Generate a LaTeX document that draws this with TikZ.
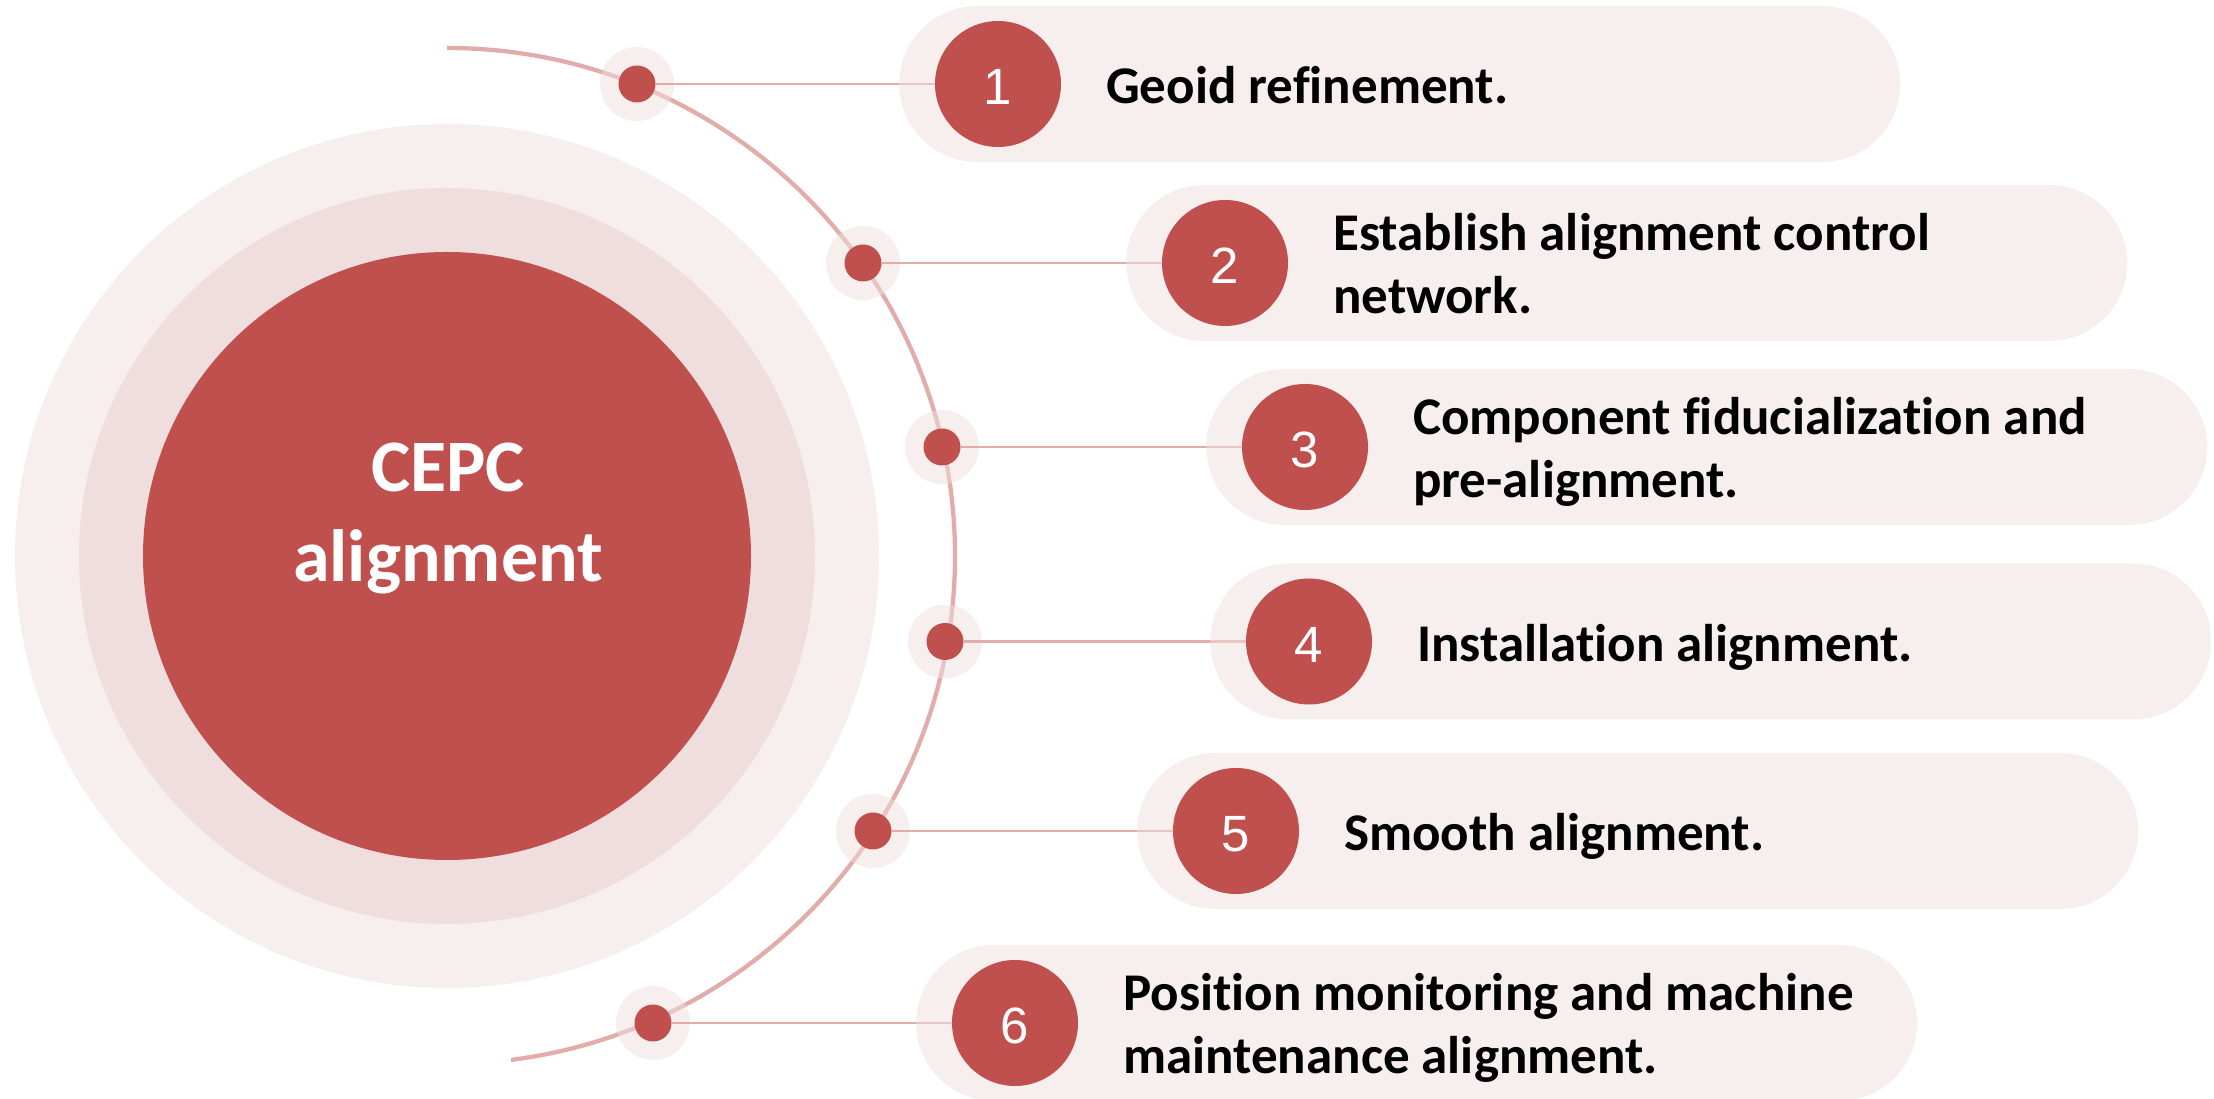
\documentclass[tikz,border=0pt]{standalone}
\usepackage{fontspec}
\setmainfont{Carlito}[Ligatures=NoCommon]
\newfontfamily\numfont{Liberation Sans}
\definecolor{cred}{RGB}{192,80,77}
\definecolor{ctint}{RGB}{239,223,221}
\definecolor{cmid}{RGB}{240,221,221}
\definecolor{cline}{RGB}{226,172,171}
\pgfdeclarelayer{rings}
\pgfdeclarelayer{links}
\pgfdeclarelayer{bars}
\pgfsetlayers{rings,links,bars,main}
\begin{document}
\begin{tikzpicture}[x=1pt,y=1pt,
  tint/.style={fill=ctint,fill opacity=0.5,draw=none},
  disc/.style={circle,inner sep=0pt,draw=none},
  halo/.style={disc,tint,minimum size=74pt},
  dotnode/.style={disc,fill=cred,minimum size=37pt},
  numnode/.style={disc,fill=cred,minimum size=126pt,text=white,
    font=\numfont\fontsize{51}{51}\selectfont,text height=42pt,text depth=0pt},
  pill/.style={rectangle,tint,rounded corners=78pt,minimum width=1001pt,
    minimum height=156pt,inner sep=0pt,anchor=west},
  arcline/.style={draw=cline,line width=4.3pt},
  conn/.style={draw=cline,line width=2.4pt},
  steptext/.style={anchor=base west,inner sep=0pt,text=black,
    font=\bfseries\fontsize{53}{62}\selectfont},
  hubtext/.style={anchor=base,inner sep=0pt,text=white,
    font=\bfseries\fontsize{74}{90}\selectfont}]
\useasboundingbox (0,0) rectangle (2214,1099);
\coordinate (ctr) at (447,543);

% concentric hub and the guiding arc with its halos
\begin{pgfonlayer}{rings}
  \node[disc,tint,minimum size=864pt] (outer) at (ctr) {};
  \node[disc,fill=cmid,minimum size=736pt] (middle) at (ctr) {};
  \node[disc,fill=cred,minimum size=608pt] (core) at (ctr) {};
  \draw[arcline] (ctr) ++(90:508) arc[start angle=90,end angle=-82.75,radius=508];
  \foreach \i/\dx/\yy in {1/637/1015,2/863/836,3/942/652,4/945/457.5,5/873/268,6/653/76}
    \node[halo] (halo\i) at (\dx,\yy) {};
\end{pgfonlayer}

% step bars
\begin{pgfonlayer}{bars}
  \foreach \i/\L/\yy in {1/899/1015,2/1126/836,3/1206/652,4/1210/457.5,5/1137/268,6/916/76}
    \node[pill] (bar\i) at (\L,\yy) {};
\end{pgfonlayer}

% dots on the arc and numbered discs
\foreach \i/\dx/\nx/\yy in {1/637/998/1015,2/863/1225/836,3/942/1305/652,
                            4/945/1309/457.5,5/873/1236/268,6/653/1015/76}{
  \node[dotnode] (dot\i) at (\dx,\yy) {};
  \node[numnode] (num\i) at (\nx,\yy) {\i};
}

% links from the arc to the discs
\begin{pgfonlayer}{links}
  \foreach \i in {1,...,6}
    \draw[conn] (dot\i) -- (num\i);
\end{pgfonlayer}

% hub title
\node[hubtext] (hubA) at (448,607) {CEPC};
\node[hubtext] (hubB) at (448,517) {alignment};

% step labels
\node[steptext] (t1)  at (1106,995)  {Geoid refinement.};
\node[steptext] (t2a) at (1333,848)  {Establish alignment control};
\node[steptext] (t2b) at (1333,785.5) {network.};
\node[steptext] (t3a) at (1413,664)  {Component fiducialization and};
\node[steptext] (t3b) at (1413,601.5) {pre-alignment.};
\node[steptext] (t4)  at (1417,437.5) {Installation alignment.};
\node[steptext] (t5)  at (1344,248)  {Smooth alignment.};
\node[steptext] (t6a) at (1123,88)   {Position monitoring and machine};
\node[steptext] (t6b) at (1123,25.5) {maintenance alignment.};
\end{tikzpicture}
\end{document}
